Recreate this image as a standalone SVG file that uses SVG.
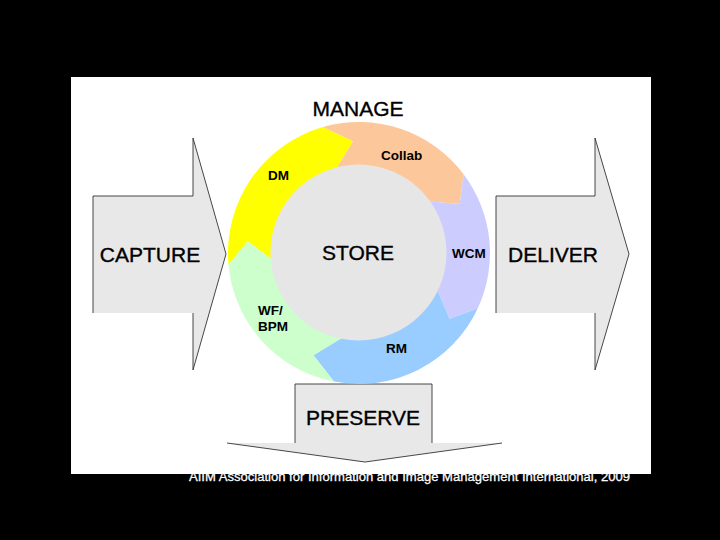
<svg xmlns="http://www.w3.org/2000/svg" width="720" height="540" viewBox="0 0 720 540">
<style>
.big{font-family:"Liberation Sans",Arial,sans-serif;font-size:21px;fill:#000;stroke:#000;stroke-width:0.35;text-anchor:middle}
.seg{font-family:"Liberation Sans",Arial,sans-serif;font-size:13.5px;font-weight:bold;fill:#000}
.arrow{fill:#e8e8e8;stroke:none}
.edge{fill:none;stroke:#333;stroke-width:0.9;stroke-linejoin:miter}
.cap{font-family:"Liberation Sans",Arial,sans-serif;font-size:13.5px;fill:#fff;stroke:#fff;stroke-width:0.3}
</style>
<rect x="0" y="0" width="720" height="540" fill="#000"/>
<text class="cap" x="189" y="480.5" textLength="441" lengthAdjust="spacingAndGlyphs">AIIM Association for Information and Image Management International, 2009</text>
<rect x="71" y="77" width="580" height="397" fill="#fff"/>

<g id="capture">
<polygon class="arrow" points="93,196 193,196 193,138 226,254 193,370 193,313 93,313"/>
<polyline class="edge" points="93,313 93,196 193,196 193,138 226,254 193,370 193,313"/>
<text class="big" x="150" y="262">CAPTURE</text>
</g>

<g id="deliver">
<polygon class="arrow" points="496,196 595,196 595,138 629,254 595,370 595,313 496,313"/>
<polyline class="edge" points="496,313 496,196 595,196 595,138 629,254 595,370 595,313"/>
<text class="big" x="553" y="262">DELIVER</text>
</g>

<g id="preserve">
<polygon class="arrow" points="295,384 432,384 432,443 502,443 365,462 227,443 295,443"/>
<polyline class="edge" points="295,443 295,384 432,384 432,443"/>
<polyline class="edge" points="502,443 365,462 227,443"/>
<text class="big" x="363" y="425">PRESERVE</text>
</g>

<g id="manage">
<text class="big" x="358" y="116">MANAGE</text>
</g>

<g id="dm">
<path fill="#ffff00" d="M228.5,264.4 A131,131 0 0 1 322.9,127.1 L353.1,141.2 L335.3,170.3 A86,86 0 0 0 273.3,260.5 L247.6,241.3 Z"/>
<text class="seg" x="268" y="180">DM</text>
</g>
<g id="collab">
<path fill="#fcc89b" d="M322.9,127.1 A131,131 0 0 1 463.6,174.2 L459.7,203.9 L427.7,201.2 A86,86 0 0 0 335.3,170.3 L353.1,141.2 Z"/>
<text class="seg" x="381" y="160">Collab</text>
</g>
<g id="wcm">
<path fill="#ccccff" d="M463.6,174.2 A131,131 0 0 1 477.7,308.4 L449.6,318.8 L436.9,289.3 A86,86 0 0 0 427.7,201.2 L459.7,203.9 Z"/>
<text class="seg" x="452" y="258">WCM</text>
</g>
<g id="rm">
<path fill="#99ccff" d="M477.7,308.4 A131,131 0 0 1 334.0,381.6 L313.4,355.3 L342.6,337.4 A86,86 0 0 0 436.9,289.3 L449.6,318.8 Z"/>
<text class="seg" x="386" y="353">RM</text>
</g>
<g id="wfbpm">
<path fill="#ccffcc" d="M334.0,381.6 A131,131 0 0 1 228.5,264.4 L247.6,241.3 L273.3,260.5 A86,86 0 0 0 342.6,337.4 L313.4,355.3 Z"/>
<text class="seg" x="258" y="315">WF/</text>
<text class="seg" x="258" y="331">BPM</text>
</g>

<g id="store">
<circle cx="358.5" cy="252.5" r="88" fill="#e6e6e6"/>
<text class="big" x="358" y="260">STORE</text>
</g>

<g id="connectors"/>
</svg>
